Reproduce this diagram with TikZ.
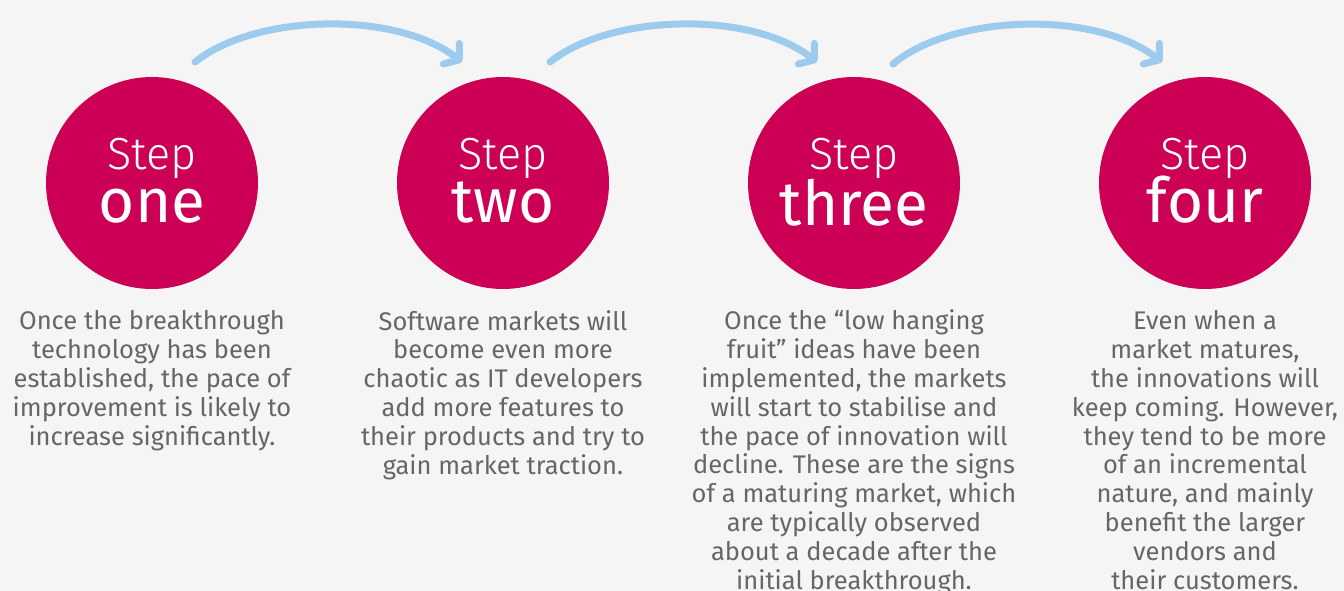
\documentclass[tikz,border=0pt]{standalone}
\usepackage{fontspec}
\setmainfont{Fira Sans}
\newfontfamily\lightfont{Fira Sans Light}
\usetikzlibrary{arrows.meta}
\definecolor{bg}{HTML}{F5F5F5}
\definecolor{stepred}{HTML}{CC0055}
\definecolor{arrowblue}{HTML}{9DCBEE}
\definecolor{bodygray}{HTML}{666666}
\tikzset{
  stepcircle/.style={circle, fill=stepred, minimum size=212pt, inner sep=0pt},
  stepword/.style={text=white, font=\lightfont\fontsize{45}{45}\selectfont, anchor=base, inner sep=0pt},
  numword/.style={text=white, font=\fontsize{62}{62}\selectfont, anchor=base, inner sep=0pt},
  bodytext/.style={text=bodygray, font=\fontsize{25.5}{28.8}\selectfont, align=center, anchor=base, inner sep=0pt},
  flow/.style={draw=arrowblue, line width=7pt, line cap=round, -{Straight Barb[length=10pt,width=26pt,line cap=round,line join=round]}}
}
\begin{document}
\begin{tikzpicture}[x=1pt,y=-1pt]
\fill[bg] (0,0) rectangle (1344,591);
\useasboundingbox (0,0) rectangle (1344,591);

\node[stepcircle] (c1) at (152,183) {};
\node[stepcircle] (c2) at (503,183) {};
\node[stepcircle] (c3) at (854,183) {};
\node[stepcircle] (c4) at (1205,183) {};

\node[stepword] (s1) at (152,170) {Step};
\node[stepword] (s2) at (503,170) {Step};
\node[stepword] (s3) at (854,170) {Step};
\node[stepword] (s4) at (1205,170) {Step};

\node[numword] (n1) at (152,222) {one};
\node[numword] (n2) at (503,222) {two};
\node[numword] (n3) at (854,225) {three};
\node[numword] (n4) at (1205,222) {four};

\coordinate (a1s) at (195,62);
\coordinate (a1e) at (462,62);
\coordinate (a2s) at (550,62);
\coordinate (a2e) at (817,62);
\coordinate (a3s) at (893,64);
\coordinate (a3e) at (1162,62);
\draw[flow] (a1s) .. controls (255,14) and (395,10) .. (a1e);
\draw[flow] (a2s) .. controls (610,14) and (750,10) .. (a2e);
\draw[flow] (a3s) .. controls (953,14) and (1095,10) .. (a3e);

% base anchor of a multi-line node = baseline of its last line
\node[bodytext] (t1) at (152,445) {Once the breakthrough\\technology has been\\established, the pace of\\improvement is likely to\\increase significantly.};
\node[bodytext] (t2) at (503,474) {Software markets will\\become even more\\chaotic as IT developers\\add more features to\\their products and try to\\gain market traction.};
\node[bodytext] (t3) at (854,589) {Once the “low hanging\\fruit” ideas have been\\implemented, the markets\\will start to stabilise and\\the pace of innovation will\\decline. These are the signs\\of a maturing market, which\\are typically observed\\about a decade after the\\initial breakthrough.};
\node[bodytext] (t4) at (1205,589) {Even when a\\market matures,\\the innovations will\\keep coming. However,\\they tend to be more\\of an incremental\\nature, and mainly\\benefit the larger\\vendors and\\their customers.};
\end{tikzpicture}
\end{document}
